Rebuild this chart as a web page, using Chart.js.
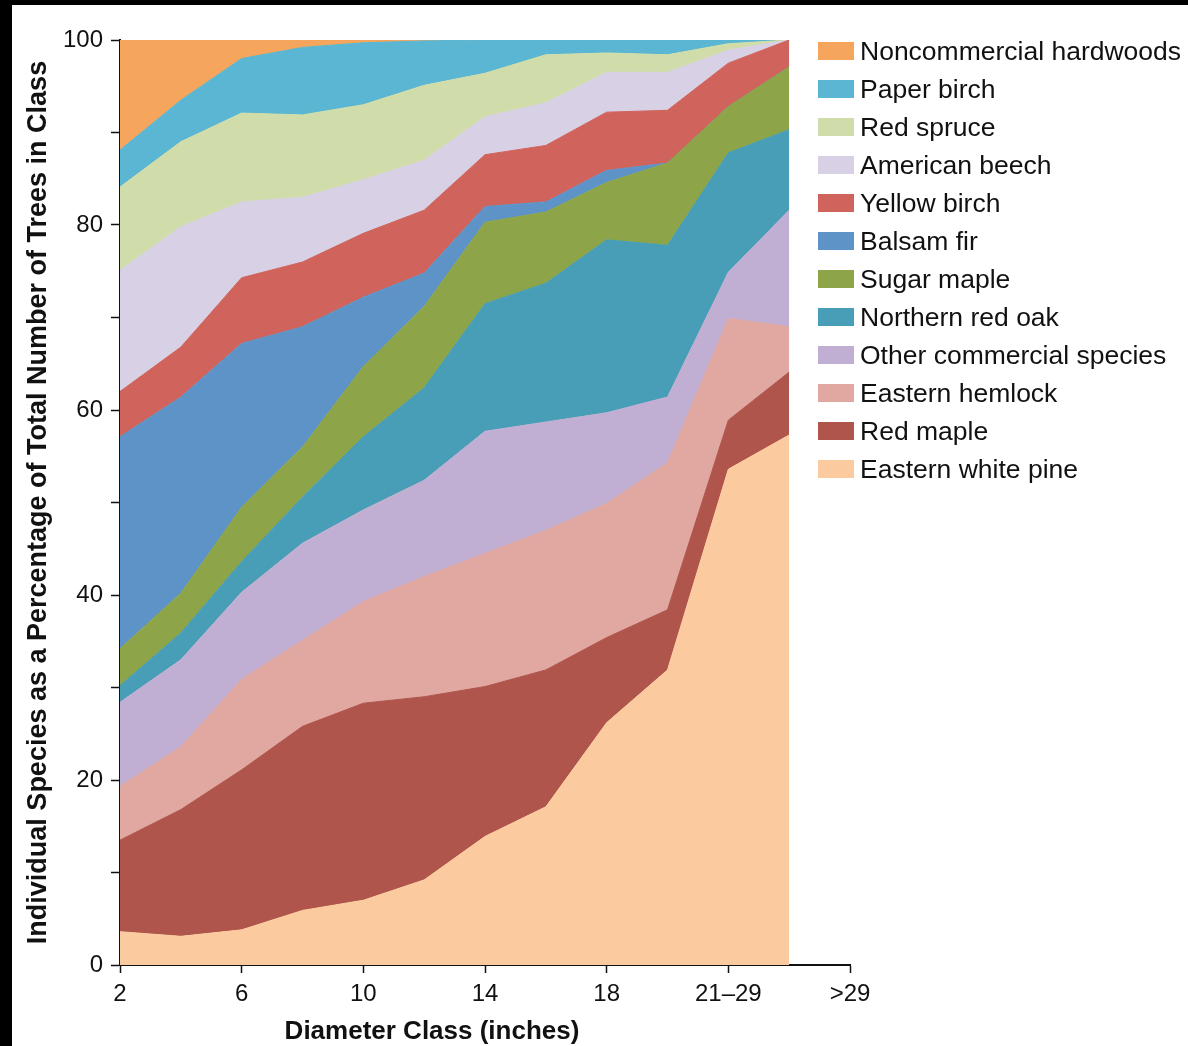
<!DOCTYPE html>
<html>
<head>
<meta charset="utf-8">
<script src="https://cdn.jsdelivr.net/npm/chart.js@4.4.1/dist/chart.umd.min.js"></script>
<style>
  html, body { margin: 0; padding: 0; background: #000; }
  #page { position: absolute; left: 12px; top: 5px; width: 1176px; height: 1041px; background: #fff; overflow: hidden; }
  #wrap { position: absolute; left: 0; top: 0; width: 870px; height: 1041px; }
  #xtitle {
    position: absolute; left: 420px; top: 1011px; transform: translateX(-50%);
    font: bold 26px "Liberation Sans", Arial, sans-serif; line-height: 28px; color: #111; white-space: nowrap;
  }
  #legend { position: absolute; left: 806px; top: 27px; }
  .item { height: 38px; display: flex; align-items: center; font: 26.5px "Liberation Sans", Arial, sans-serif; color: #111; white-space: nowrap; }
  .box { width: 36px; height: 18px; margin-right: 6px; }
</style>
</head>
<body>
<div id="page">
  <div id="wrap"><canvas id="chart"></canvas></div>
  <div id="xtitle">Diameter Class (inches)</div>
  <div id="legend"></div>
</div>
<script>
// x categories (diameter classes)
const xLabels = ["2", "4", "6", "8", "10", "12", "14", "16", "18", "20", "21–29", "", ">29"];

// percentages per species, bottom of stack first
const easternWhitePine = [3.6, 3.1, 3.8, 5.9, 7.0, 9.2, 13.9, 17.1, 26.2, 31.9, 53.6, 57.3];
const redMaple         = [9.9, 13.7, 17.3, 19.9, 21.3, 19.8, 16.2, 14.8, 9.2, 6.5, 5.3, 6.8];
const easternHemlock   = [5.8, 6.8, 9.8, 9.3, 11.0, 13.0, 14.4, 15.1, 14.5, 15.9, 11.0, 4.9];
const otherCommercial  = [9.1, 9.4, 9.4, 10.5, 9.9, 10.4, 13.2, 11.7, 9.8, 7.1, 5.0, 12.6];
const northernRedOak   = [1.8, 2.9, 3.3, 5.0, 7.9, 10.0, 13.8, 15.0, 18.7, 16.4, 12.9, 8.7];
const sugarMaple       = [4.0, 4.3, 5.9, 5.4, 7.6, 8.8, 8.8, 7.7, 6.2, 8.9, 5.0, 6.8];
const balsamFir        = [22.9, 21.2, 17.7, 13.0, 7.5, 3.6, 1.7, 1.1, 1.3, 0, 0, 0];
const yellowBirch      = [4.9, 5.4, 7.1, 7.0, 6.9, 6.8, 5.6, 6.1, 6.3, 5.7, 4.7, 2.9];
const americanBeech    = [13.1, 13.0, 8.2, 7.0, 5.8, 5.4, 4.1, 4.6, 4.3, 4.1, 1.4, 0];
const redSpruce        = [9.0, 9.2, 9.6, 8.9, 8.1, 8.1, 4.7, 5.2, 2.1, 1.9, 0.7, 0];
const paperBirch       = [4.0, 4.5, 5.9, 7.3, 6.7, 4.8, 3.6, 1.6, 1.4, 1.6, 0.4, 0];
const noncommercial    = [11.9, 6.5, 2.0, 0.8, 0.3, 0.1, 0, 0, 0, 0, 0, 0];

const series = [
  ["Eastern white pine", easternWhitePine, "#FBCB9F"],
  ["Red maple", redMaple, "#AF554C"],
  ["Eastern hemlock", easternHemlock, "#E1A8A2"],
  ["Other commercial species", otherCommercial, "#C0AFD3"],
  ["Northern red oak", northernRedOak, "#479EB6"],
  ["Sugar maple", sugarMaple, "#8EA448"],
  ["Balsam fir", balsamFir, "#5E93C7"],
  ["Yellow birch", yellowBirch, "#D0635B"],
  ["American beech", americanBeech, "#D8D0E4"],
  ["Red spruce", redSpruce, "#D0DDAB"],
  ["Paper birch", paperBirch, "#5AB6D2"],
  ["Noncommercial hardwoods", noncommercial, "#F5A55C"]
];

const datasets = series.map(([label, data, color], i) => ({
  label: label,
  data: data,
  backgroundColor: color,
  borderColor: color,
  borderWidth: 1,
  pointRadius: 0,
  tension: 0,
  fill: i === 0 ? "origin" : "-1"
}));

const chart = new Chart(document.getElementById("chart"), {
  type: "line",
  data: { labels: xLabels, datasets: datasets },
  options: {
    responsive: true,
    maintainAspectRatio: false,
    animation: false,
    layout: { padding: { top: 35, right: 32, left: 0, bottom: 0 } },
    plugins: { legend: { display: false }, tooltip: { enabled: false } },
    scales: {
      x: {
        offset: false,
        grid: { drawOnChartArea: false, drawTicks: true, tickLength: 8, tickColor: "#111", tickWidth: 1.5 },
        border: { color: "#111", width: 2 },
        ticks: {
          autoSkip: false, maxRotation: 0, padding: 7, color: "#111",
          font: { family: "'Liberation Sans Narrow', 'Liberation Sans', sans-serif", size: 24 },
          callback: (v, i) => (i % 2 === 0 ? xLabels[i] : null)
        },
        afterFit: (s) => { s.height = 81; }
      },
      y: {
        stacked: true,
        min: 0, max: 100,
        grid: { drawOnChartArea: false, drawTicks: true, tickLength: 9, tickColor: "#111", tickWidth: 1.5 },
        border: { color: "#111", width: 2 },
        ticks: {
          stepSize: 10, padding: 8, color: "#111",
          font: { family: "'Liberation Sans', sans-serif", size: 24 },
          callback: (v) => (v % 20 === 0 ? v : "")
        },
        title: {
          display: true,
          text: "Individual Species as a Percentage of Total Number of Trees in Class",
          color: "#111",
          font: { family: "'Liberation Sans', sans-serif", size: 27, weight: "bold", lineHeight: 1 },
          padding: { top: 13, bottom: 0 }
        },
        afterFit: (s) => { s.width = 108; }
      }
    }
  }
});

// legend, top of stack first
const legend = document.getElementById("legend");
chart.data.datasets.slice().reverse().forEach((ds) => {
  const row = document.createElement("div");
  row.className = "item";
  const box = document.createElement("span");
  box.className = "box";
  box.style.background = ds.backgroundColor;
  row.appendChild(box);
  row.appendChild(document.createTextNode(ds.label));
  legend.appendChild(row);
});
</script>
</body>
</html>
